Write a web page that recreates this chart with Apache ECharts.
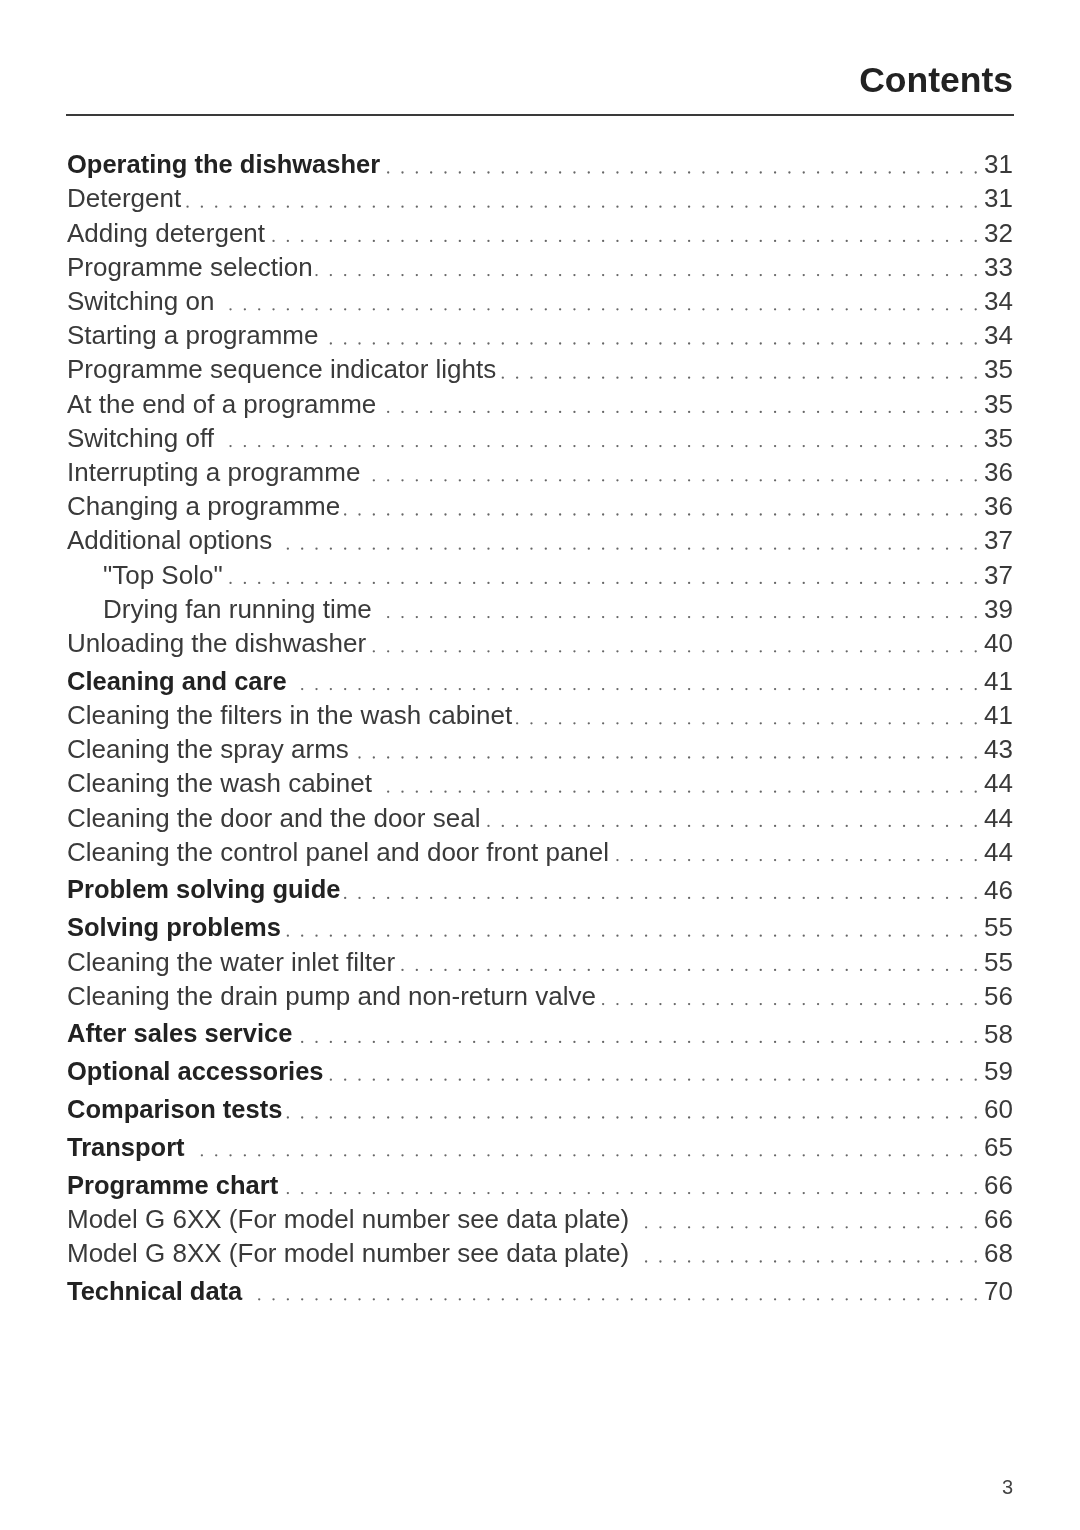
<!DOCTYPE html>
<html>
<head>
<meta charset="utf-8">
<style>html,body{margin:0;padding:0;background:#fff}#c{width:1080px;height:1530px}</style>
<script src="https://cdn.jsdelivr.net/npm/echarts@6/dist/echarts.min.js"></script>
</head>
<body>
<div id="c"></div>
<script>
// ---- data ----
const pageTitle = "Contents";
const footerPage = "3";
const titles = [
  "Operating the dishwasher",
  "Detergent",
  "Adding detergent",
  "Programme selection",
  "Switching on",
  "Starting a programme",
  "Programme sequence indicator lights",
  "At the end of a programme",
  "Switching off",
  "Interrupting a programme",
  "Changing a programme",
  "Additional options",
  "\"Top Solo\"",
  "Drying fan running time",
  "Unloading the dishwasher",
  "Cleaning and care",
  "Cleaning the filters in the wash cabinet",
  "Cleaning the spray arms",
  "Cleaning the wash cabinet",
  "Cleaning the door and the door seal",
  "Cleaning the control panel and door front panel",
  "Problem solving guide",
  "Solving problems",
  "Cleaning the water inlet filter",
  "Cleaning the drain pump and non-return valve",
  "After sales service",
  "Optional accessories",
  "Comparison tests",
  "Transport",
  "Programme chart",
  "Model G 6XX (For model number see data plate)",
  "Model G 8XX (For model number see data plate)",
  "Technical data"
];
const pages = [31,31,32,33,34,34,35,35,35,36,36,37,37,39,40,41,41,43,44,44,44,46,55,55,56,58,59,60,65,66,66,68,70];
// 0 = section heading (bold), 1 = entry, 2 = sub-entry
const levels = [0,1,1,1,1,1,1,1,1,1,1,1,2,2,1,0,1,1,1,1,1,0,0,1,1,0,0,0,0,0,1,1,0];

// ---- layout ----
const ROW = 34.2, EXTRA = 3.6 / 34.2, MAXROWS = 40;
const FONT = '"Liberation Sans", Arial, Helvetica, sans-serif';
const FS = 26, FSB = 25.5;
let extraCount = 0;
const seriesData = titles.map((t, i) => {
  if (i > 0 && levels[i] === 0) extraCount++;
  return [i, 0.5 + i + extraCount * EXTRA];
});

const cv = document.createElement('canvas').getContext('2d');
function fontOf(bold) { return bold ? 'bold ' + FSB + 'px ' + FONT : FS + 'px ' + FONT; }
function textW(s, bold) { cv.font = fontOf(bold); return cv.measureText(s).width; }

const chart = echarts.init(document.getElementById('c'), null, {renderer: 'canvas'});
chart.setOption({
  animation: false,
  backgroundColor: '#ffffff',
  grid: {left: 67, right: 67, top: 166 - 0.5 * ROW, height: MAXROWS * ROW},
  xAxis: {type: 'value', min: 0, max: 1, show: false},
  yAxis: {type: 'value', min: 0, max: MAXROWS, inverse: true, show: false},
  graphic: [
    {type: 'text', right: 67, top: 64, style: {text: pageTitle, font: 'bold 35.5px ' + FONT, fill: '#222'}},
    {type: 'line', shape: {x1: 66, y1: 115, x2: 1014, y2: 115}, style: {stroke: '#3a3a3a', lineWidth: 2}},
    {type: 'text', right: 67, top: 1478, style: {text: footerPage, font: '20px ' + FONT, fill: '#444'}}
  ],
  series: [{
    type: 'custom',
    coordinateSystem: 'cartesian2d',
    data: seriesData,
    renderItem: function (params, api) {
      const i = api.value(0);
      const row = api.value(1);
      const left = api.coord([0, row]);
      const right = api.coord([1, row]);
      const y = left[1];
      const lvl = levels[i];
      const bold = lvl === 0;
      const x0 = left[0] + (lvl === 2 ? 36 : 0);
      const title = titles[i];
      const tw = textW(title, bold);
      const children = [];
      children.push({
        type: 'text',
        style: {text: title, x: x0, y: y, font: fontOf(bold),
          fill: bold ? '#222' : '#3a3a3a', textAlign: 'left', textVerticalAlign: 'middle'}
      });
      children.push({
        type: 'text',
        style: {text: String(pages[i]), x: right[0], y: y, font: FS + 'px ' + FONT,
          fill: '#3a3a3a', textAlign: 'right', textVerticalAlign: 'middle'}
      });
      const lastDot = right[0] - 37.3;
      const endX = x0 + tw + 3;
      for (let k = 0; ; k++) {
        const dx = lastDot - k * 14.33;
        if (dx < endX) break;
        children.push({type: 'circle', shape: {cx: dx, cy: y + 6.5, r: 1.15}, style: {fill: '#666'}});
      }
      return {type: 'group', children: children};
    }
  }]
});
</script>
</body>
</html>
